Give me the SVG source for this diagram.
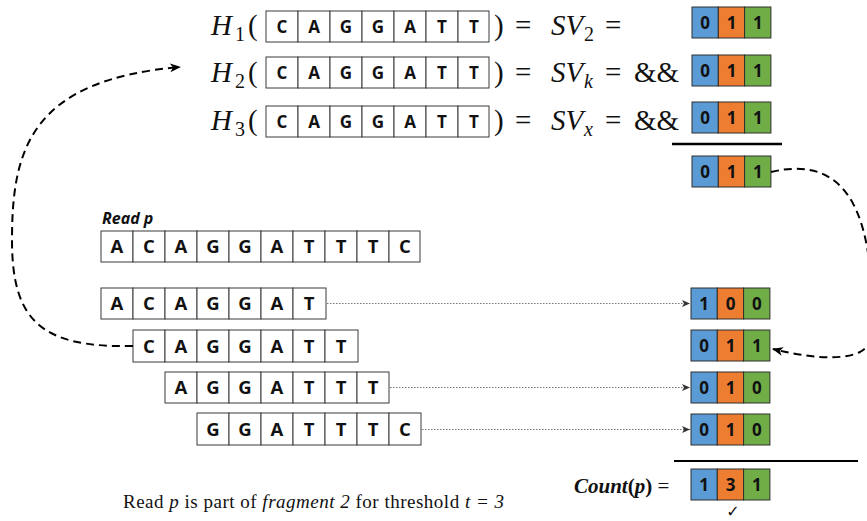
<svg xmlns="http://www.w3.org/2000/svg" width="867" height="521" viewBox="0 0 867 521">
  <style>
    .cell { fill: #ffffff; stroke: #3a3a3a; stroke-width: 1; }
    .nt { font-family: "Open Sans", "Liberation Sans", sans-serif; font-weight: bold; text-anchor: middle; fill: #111; }
    .nt14 { font-size: 17px; }
    .nt16 { font-size: 18.5px; }
    .bit { font-family: "Open Sans", "Liberation Sans", sans-serif; font-weight: bold; font-size: 17px; text-anchor: middle; fill: #111; }
    .b0 { fill: #5b9bd5; stroke: #2e2e2e; stroke-width: 1; }
    .b1 { fill: #ed7d31; stroke: #2e2e2e; stroke-width: 1; }
    .b2 { fill: #70ad47; stroke: #2e2e2e; stroke-width: 1; }
    .math { font-family: "Liberation Serif", "DejaVu Serif", serif; font-size: 29px; fill: #111; }
    .it { font-style: italic; }
    .sub { font-size: 20px; }
    .dotted { fill: none; stroke: #777; stroke-width: 1; stroke-dasharray: 1.5 1.5; }
    .dashed { fill: none; stroke: #000; stroke-width: 2; stroke-dasharray: 8 5; }
  </style>
  <defs>
    <marker id="bigArrow" markerWidth="12" markerHeight="10" refX="10" refY="5" orient="auto" markerUnits="userSpaceOnUse">
      <path d="M0,0.5 L11,5 L0,9.5 L3,5 Z" fill="#000"/>
    </marker>
    <marker id="smallArrow" markerWidth="9" markerHeight="8" refX="8" refY="4" orient="auto" markerUnits="userSpaceOnUse">
      <path d="M0,0.5 L8,4 L0,7.5 L2,4 Z" fill="#333"/>
    </marker>
  </defs>

  <!-- hash rows: H_i( k-mer ) = SV -->
  <g id="hash1">
    <text class="math" y="35"><tspan x="211" class="it">H</tspan><tspan x="235" y="41" class="sub">1</tspan><tspan x="248" y="35">(</tspan></text>
    <g class="nt nt14">
      <rect class="cell" x="266" y="11" width="32" height="31"/><text x="282" y="33">C</text>
      <rect class="cell" x="298" y="11" width="32" height="31"/><text x="314" y="33">A</text>
      <rect class="cell" x="330" y="11" width="32" height="31"/><text x="346" y="33">G</text>
      <rect class="cell" x="362" y="11" width="32" height="31"/><text x="378" y="33">G</text>
      <rect class="cell" x="394" y="11" width="32" height="31"/><text x="410" y="33">A</text>
      <rect class="cell" x="426" y="11" width="32" height="31"/><text x="442" y="33">T</text>
      <rect class="cell" x="458" y="11" width="31" height="31"/><text x="474" y="33">T</text>
    </g>
    <text class="math" y="35"><tspan x="494">)</tspan><tspan x="515">=</tspan><tspan x="551" class="it">SV</tspan><tspan x="584" y="41" class="sub">2</tspan><tspan x="605" y="35">=</tspan></text>
  </g>

  <g id="hash2">
    <text class="math" y="82"><tspan x="211" class="it">H</tspan><tspan x="235" y="88" class="sub">2</tspan><tspan x="248" y="82">(</tspan></text>
    <g class="nt nt14">
      <rect class="cell" x="266" y="57" width="32" height="31"/><text x="282" y="79">C</text>
      <rect class="cell" x="298" y="57" width="32" height="31"/><text x="314" y="79">A</text>
      <rect class="cell" x="330" y="57" width="32" height="31"/><text x="346" y="79">G</text>
      <rect class="cell" x="362" y="57" width="32" height="31"/><text x="378" y="79">G</text>
      <rect class="cell" x="394" y="57" width="32" height="31"/><text x="410" y="79">A</text>
      <rect class="cell" x="426" y="57" width="32" height="31"/><text x="442" y="79">T</text>
      <rect class="cell" x="458" y="57" width="31" height="31"/><text x="474" y="79">T</text>
    </g>
    <text class="math" y="82"><tspan x="494">)</tspan><tspan x="515">=</tspan><tspan x="551" class="it">SV</tspan><tspan x="584" y="88" class="sub it">k</tspan><tspan x="605" y="82">=</tspan><tspan x="634">&amp;&amp;</tspan></text>
  </g>

  <g id="hash3">
    <text class="math" y="130"><tspan x="211" class="it">H</tspan><tspan x="235" y="136" class="sub">3</tspan><tspan x="248" y="130">(</tspan></text>
    <g class="nt nt14">
      <rect class="cell" x="266" y="106" width="32" height="31"/><text x="282" y="128">C</text>
      <rect class="cell" x="298" y="106" width="32" height="31"/><text x="314" y="128">A</text>
      <rect class="cell" x="330" y="106" width="32" height="31"/><text x="346" y="128">G</text>
      <rect class="cell" x="362" y="106" width="32" height="31"/><text x="378" y="128">G</text>
      <rect class="cell" x="394" y="106" width="32" height="31"/><text x="410" y="128">A</text>
      <rect class="cell" x="426" y="106" width="32" height="31"/><text x="442" y="128">T</text>
      <rect class="cell" x="458" y="106" width="31" height="31"/><text x="474" y="128">T</text>
    </g>
    <text class="math" y="130"><tspan x="494">)</tspan><tspan x="515">=</tspan><tspan x="551" class="it">SV</tspan><tspan x="584" y="136" class="sub it">x</tspan><tspan x="605" y="130">=</tspan><tspan x="634">&amp;&amp;</tspan></text>
  </g>

  <!-- signature vectors of the hash rows -->
  <g id="sv2">
    <rect class="b0" x="692" y="7" width="26.3" height="31"/><rect class="b1" x="718.3" y="7" width="26.3" height="31"/><rect class="b2" x="744.6" y="7" width="26.3" height="31"/>
    <text class="bit" y="29"><tspan x="705">0</tspan><tspan x="731.5">1</tspan><tspan x="757.8">1</tspan></text>
  </g>
  <g id="svk">
    <rect class="b0" x="692" y="55" width="26.3" height="31"/><rect class="b1" x="718.3" y="55" width="26.3" height="31"/><rect class="b2" x="744.6" y="55" width="26.3" height="31"/>
    <text class="bit" y="77"><tspan x="705">0</tspan><tspan x="731.5">1</tspan><tspan x="757.8">1</tspan></text>
  </g>
  <g id="svx">
    <rect class="b0" x="692" y="102" width="26.3" height="31"/><rect class="b1" x="718.3" y="102" width="26.3" height="31"/><rect class="b2" x="744.6" y="102" width="26.3" height="31"/>
    <text class="bit" y="124"><tspan x="705">0</tspan><tspan x="731.5">1</tspan><tspan x="757.8">1</tspan></text>
  </g>
  <line x1="672" y1="144" x2="782" y2="144" stroke="#000" stroke-width="2.5"/>
  <g id="svAnd">
    <rect class="b0" x="692" y="156" width="26.3" height="31"/><rect class="b1" x="718.3" y="156" width="26.3" height="31"/><rect class="b2" x="744.6" y="156" width="26.3" height="31"/>
    <text class="bit" y="178"><tspan x="705">0</tspan><tspan x="731.5">1</tspan><tspan x="757.8">1</tspan></text>
  </g>

  <!-- read and its k-mers -->
  <g id="readP">
    <text x="102" y="224" font-family="Open Sans, Liberation Sans, sans-serif" font-size="16" font-weight="bold" font-style="italic" fill="#111">Read p</text>
    <g class="nt nt16">
      <rect class="cell" x="101" y="231" width="32" height="31"/><text x="117" y="253">A</text>
      <rect class="cell" x="133" y="231" width="32" height="31"/><text x="149" y="253">C</text>
      <rect class="cell" x="165" y="231" width="32" height="31"/><text x="181" y="253">A</text>
      <rect class="cell" x="197" y="231" width="32" height="31"/><text x="213" y="253">G</text>
      <rect class="cell" x="229" y="231" width="32" height="31"/><text x="245" y="253">G</text>
      <rect class="cell" x="261" y="231" width="32" height="31"/><text x="277" y="253">A</text>
      <rect class="cell" x="293" y="231" width="32" height="31"/><text x="309" y="253">T</text>
      <rect class="cell" x="325" y="231" width="32" height="31"/><text x="341" y="253">T</text>
      <rect class="cell" x="357" y="231" width="32" height="31"/><text x="373" y="253">T</text>
      <rect class="cell" x="389" y="231" width="31" height="31"/><text x="405" y="253">C</text>
    </g>
  </g>

  <g id="kmer1" class="nt nt16">
    <rect class="cell" x="101" y="288" width="32" height="31"/><text x="117" y="310">A</text>
    <rect class="cell" x="133" y="288" width="32" height="31"/><text x="149" y="310">C</text>
    <rect class="cell" x="165" y="288" width="32" height="31"/><text x="181" y="310">A</text>
    <rect class="cell" x="197" y="288" width="32" height="31"/><text x="213" y="310">G</text>
    <rect class="cell" x="229" y="288" width="32" height="31"/><text x="245" y="310">G</text>
    <rect class="cell" x="261" y="288" width="32" height="31"/><text x="277" y="310">A</text>
    <rect class="cell" x="293" y="288" width="33" height="31"/><text x="309" y="310">T</text>
  </g>
  <g id="kmer2" class="nt nt16">
    <rect class="cell" x="133" y="330" width="32" height="32"/><text x="149" y="353">C</text>
    <rect class="cell" x="165" y="330" width="32" height="32"/><text x="181" y="353">A</text>
    <rect class="cell" x="197" y="330" width="32" height="32"/><text x="213" y="353">G</text>
    <rect class="cell" x="229" y="330" width="32" height="32"/><text x="245" y="353">G</text>
    <rect class="cell" x="261" y="330" width="32" height="32"/><text x="277" y="353">A</text>
    <rect class="cell" x="293" y="330" width="32" height="32"/><text x="309" y="353">T</text>
    <rect class="cell" x="325" y="330" width="33" height="32"/><text x="341" y="353">T</text>
  </g>
  <g id="kmer3" class="nt nt16">
    <rect class="cell" x="165" y="372" width="32" height="31"/><text x="181" y="394">A</text>
    <rect class="cell" x="197" y="372" width="32" height="31"/><text x="213" y="394">G</text>
    <rect class="cell" x="229" y="372" width="32" height="31"/><text x="245" y="394">G</text>
    <rect class="cell" x="261" y="372" width="32" height="31"/><text x="277" y="394">A</text>
    <rect class="cell" x="293" y="372" width="32" height="31"/><text x="309" y="394">T</text>
    <rect class="cell" x="325" y="372" width="32" height="31"/><text x="341" y="394">T</text>
    <rect class="cell" x="357" y="372" width="32" height="31"/><text x="373" y="394">T</text>
  </g>
  <g id="kmer4" class="nt nt16">
    <rect class="cell" x="197" y="413" width="32" height="32"/><text x="213" y="436">G</text>
    <rect class="cell" x="229" y="413" width="32" height="32"/><text x="245" y="436">G</text>
    <rect class="cell" x="261" y="413" width="32" height="32"/><text x="277" y="436">A</text>
    <rect class="cell" x="293" y="413" width="32" height="32"/><text x="309" y="436">T</text>
    <rect class="cell" x="325" y="413" width="32" height="32"/><text x="341" y="436">T</text>
    <rect class="cell" x="357" y="413" width="32" height="32"/><text x="373" y="436">T</text>
    <rect class="cell" x="389" y="413" width="32" height="32"/><text x="405" y="436">C</text>
  </g>

  <!-- signature vectors of the k-mers -->
  <g id="sv1">
    <rect class="b0" x="691" y="288" width="26.3" height="31"/><rect class="b1" x="717.3" y="288" width="26.3" height="31"/><rect class="b2" x="743.6" y="288" width="26.3" height="31"/>
    <text class="bit" y="310"><tspan x="704">1</tspan><tspan x="730.5">0</tspan><tspan x="756.8">0</tspan></text>
  </g>
  <g id="svMid">
    <rect class="b0" x="691" y="330" width="26.3" height="31"/><rect class="b1" x="717.3" y="330" width="26.3" height="31"/><rect class="b2" x="743.6" y="330" width="26.3" height="31"/>
    <text class="bit" y="352"><tspan x="704">0</tspan><tspan x="730.5">1</tspan><tspan x="756.8">1</tspan></text>
  </g>
  <g id="sv3">
    <rect class="b0" x="691" y="372" width="26.3" height="31"/><rect class="b1" x="717.3" y="372" width="26.3" height="31"/><rect class="b2" x="743.6" y="372" width="26.3" height="31"/>
    <text class="bit" y="394"><tspan x="704">0</tspan><tspan x="730.5">1</tspan><tspan x="756.8">0</tspan></text>
  </g>
  <g id="sv4">
    <rect class="b0" x="691" y="414" width="26.3" height="31"/><rect class="b1" x="717.3" y="414" width="26.3" height="31"/><rect class="b2" x="743.6" y="414" width="26.3" height="31"/>
    <text class="bit" y="436"><tspan x="704">0</tspan><tspan x="730.5">1</tspan><tspan x="756.8">0</tspan></text>
  </g>

  <line x1="674" y1="461" x2="858" y2="461" stroke="#000" stroke-width="2"/>
  <g id="count">
    <text x="574" y="493" font-family="Liberation Serif, DejaVu Serif, serif" font-size="21" fill="#111"><tspan font-weight="bold" font-style="italic">Count</tspan><tspan font-weight="bold">(</tspan><tspan font-weight="bold" font-style="italic">p</tspan><tspan font-weight="bold">)</tspan><tspan> =</tspan></text>
    <rect class="b0" x="691" y="469" width="26.3" height="31"/><rect class="b1" x="717.3" y="469" width="26.3" height="31"/><rect class="b2" x="743.6" y="469" width="26.3" height="31"/>
    <text class="bit" y="491"><tspan x="704">1</tspan><tspan x="730.5">3</tspan><tspan x="756.8">1</tspan></text>
    <text x="733" y="517" font-family="DejaVu Sans, sans-serif" font-size="16" text-anchor="middle" fill="#111">✓</text>
  </g>

  <g id="caption">
    <text x="123" y="508" font-family="Liberation Serif, DejaVu Serif, serif" font-size="19" fill="#111" textLength="381" lengthAdjust="spacing">Read <tspan font-style="italic">p</tspan>  is part of <tspan font-style="italic">fragment 2</tspan> for threshold <tspan font-style="italic">t = 3</tspan></text>
  </g>

  <!-- connectors -->
  <g id="connectors">
    <line class="dotted" x1="327" y1="303.5" x2="690" y2="303.5" marker-end="url(#smallArrow)"/>
    <line class="dotted" x1="390" y1="387.5" x2="690" y2="387.5" marker-end="url(#smallArrow)"/>
    <line class="dotted" x1="422" y1="429.5" x2="690" y2="429.5" marker-end="url(#smallArrow)"/>
    <path class="dashed" d="M133,346 C40,348 12,320 12,240 C12,150 30,80 180,67" marker-end="url(#bigArrow)"/>
    <path class="dashed" d="M771,172 C830,158 860,190 869,260 C878,320 880,340 860,352 C840,362 800,356 773,349" marker-end="url(#bigArrow)"/>
  </g>
</svg>
